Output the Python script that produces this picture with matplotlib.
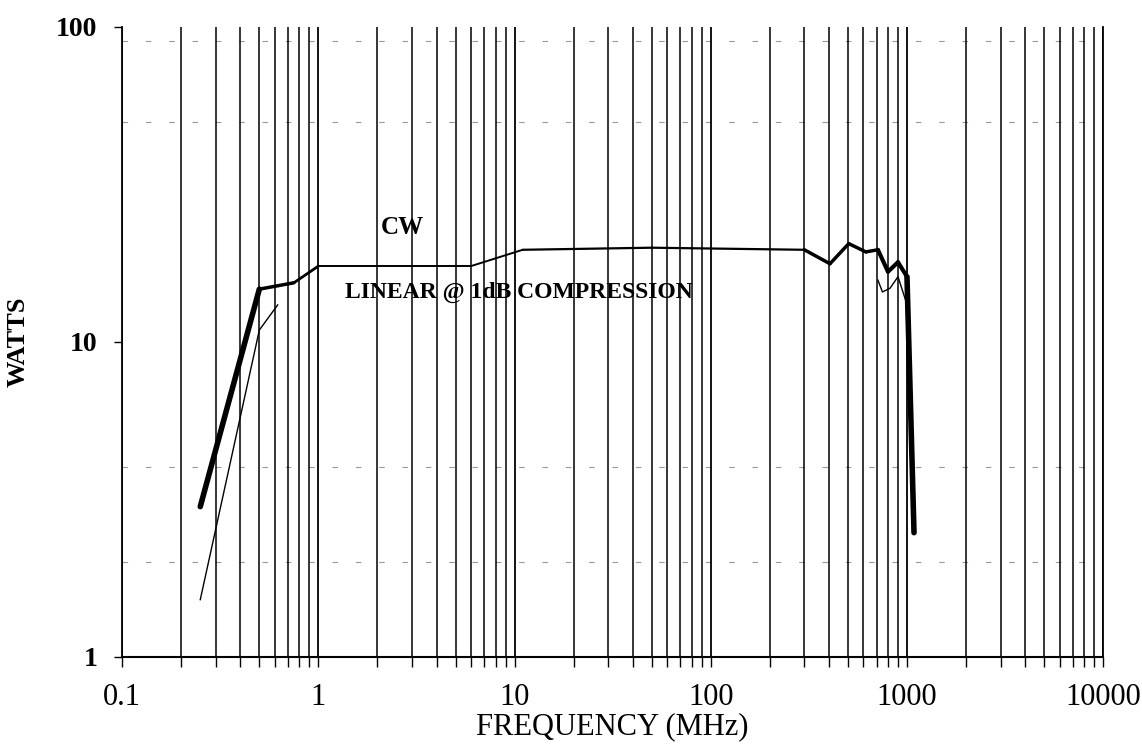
import numpy as np
import matplotlib
matplotlib.use("Agg")
import matplotlib.pyplot as plt
from matplotlib.ticker import LogLocator, FixedLocator, NullFormatter

plt.rcParams['font.family'] = ['Liberation Serif', 'DejaVu Serif']

# CW curve (thick)
cw_freq = [0.25, 0.5, 0.75, 1.0, 6.0, 11.0, 50.0, 300.0, 405.0, 505.0, 617.0, 711.0, 800.0, 900.0, 1000.0, 1086.0]
cw_watts = [3.0, 14.7, 15.4, 17.4, 17.4, 19.6, 19.9, 19.6, 17.7, 20.5, 19.3, 19.6, 16.7, 17.9, 16.1, 2.48]

# linear @ 1dB compression (thin), only parts visible on the chart
lin_freq = [0.25, 0.5, 0.62, 5.0, 711.0, 750.0, 820.0, 900.0, 990.0, 1040.0]
lin_watts = [1.52, 10.9, 13.1, np.nan, 15.7, 14.4, 14.8, 16.1, 13.4, 5.3]

# faint horizontal grid fragments
h_grid = [2, 4, 50, 90]

fig = plt.figure(figsize=(11.42, 7.44), dpi=100)
ax = fig.add_axes([0.107, 0.117, 0.859, 0.847])
ax.set_xscale('log')
ax.set_yscale('log')
ax.set_xlim(0.1, 10000)
ax.set_ylim(1, 100)

# vertical grid at every log tick
ax.xaxis.set_major_locator(LogLocator(base=10))
ax.xaxis.set_minor_locator(LogLocator(base=10, subs=np.arange(2, 10)))
ax.xaxis.set_minor_formatter(NullFormatter())
ax.yaxis.set_major_locator(FixedLocator([1, 10, 100]))
ax.yaxis.set_minor_locator(FixedLocator([]))
ax.grid(True, which='major', axis='x', color='black', lw=1.3)
ax.grid(True, which='minor', axis='x', color='black', lw=1.1)
for v in h_grid:
    ax.axhline(v, color='0.6', lw=0.8, ls=(0, (5, 16)), zorder=1)

# CW line with varying thickness
seg_w = [4.0, 2.5, 2.0, 1.4, 1.4, 1.6, 1.6, 2.5, 2.5, 2.5, 2.5, 3.0, 3.0, 3.0, 4.0]
for i in range(len(cw_freq) - 1):
    ax.plot(cw_freq[i:i + 2], cw_watts[i:i + 2], color='black', lw=seg_w[i],
            solid_capstyle='round', zorder=3)

ax.plot(lin_freq, lin_watts, color='black', lw=1.0, zorder=3)

ax.text(2.07, 23, 'CW', fontsize=18, fontweight='bold', va='center', ha='left')
ax.text(1.37, 14.4, 'LINEAR @ 1dB COMPRESSION', fontsize=17, fontweight='bold',
        va='center', ha='left')

ax.set_xticks([0.1, 1, 10, 100, 1000, 10000])
ax.set_xticklabels(['0.1', '1', '10', '100', '1000', '10000'], fontsize=22)
ax.set_yticklabels(['1', '10', '100'], fontsize=20, fontweight='bold')
ax.tick_params(axis='x', which='both', direction='out', length=7, width=1, pad=12)
ax.tick_params(axis='y', which='both', direction='out', length=6, width=1, pad=12)

ax.set_xlabel('FREQUENCY (MHz)', fontsize=22, labelpad=0)
ax.set_ylabel('WATTS', fontsize=19, fontweight='bold')
ax.yaxis.set_label_coords(-0.094, 0.5)

ax.spines['top'].set_visible(False)
ax.spines['bottom'].set_linewidth(1.5)
ax.spines['left'].set_linewidth(1.3)
ax.spines['right'].set_linewidth(1.3)

fig.savefig('out.png', dpi=100)
